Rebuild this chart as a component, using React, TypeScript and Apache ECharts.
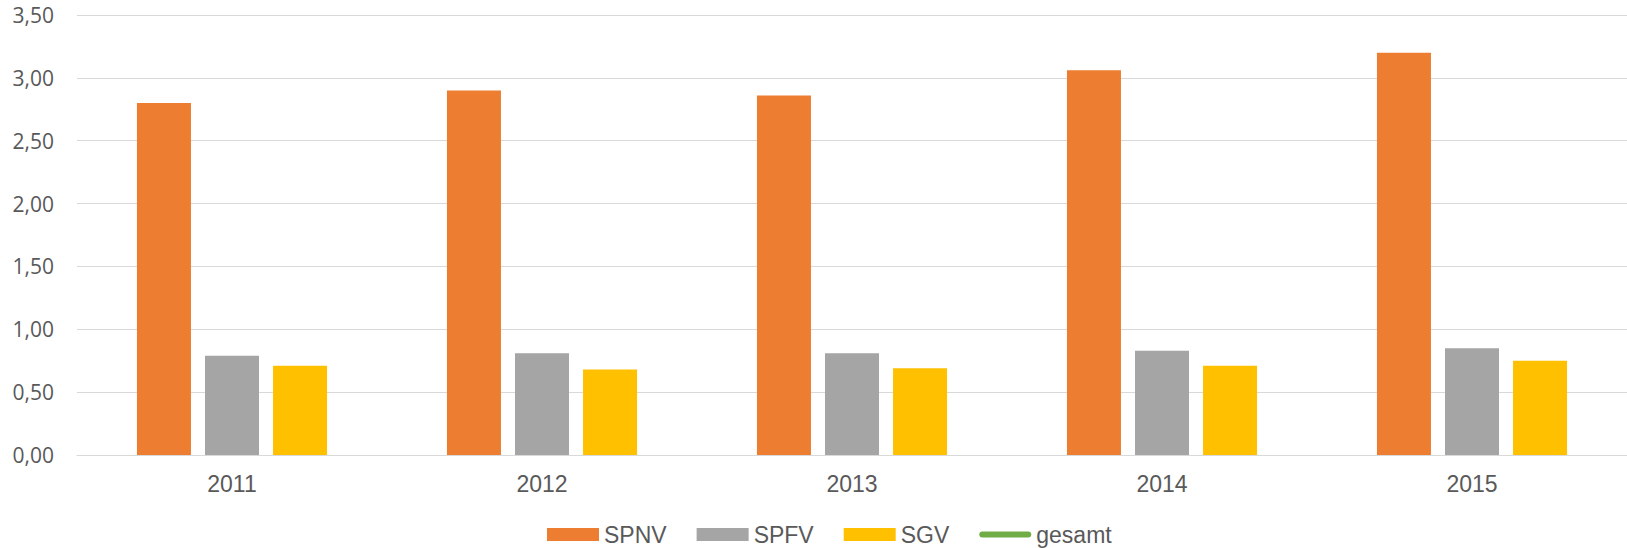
import React, { useEffect, useRef } from "react";
import * as echarts from "echarts";

const years = ["2011", "2012", "2013", "2014", "2015"];
const spnv = [2.8, 2.9, 2.86, 3.06, 3.2];
const spfv = [0.79, 0.81, 0.81, 0.83, 0.85];
const sgv = [0.71, 0.68, 0.69, 0.71, 0.75];
const gesamt: number[] = [];

const fmt = (v: number) => v.toFixed(2).replace(".", ",");

export default function App() {
  const ref = useRef<HTMLDivElement>(null);
  useEffect(() => {
    if (!ref.current) return;
    const chart = echarts.init(ref.current, undefined, { renderer: "svg" });
    const pill = "path://M3,0 L49,0 A3,3 0 0 1 49,6 L3,6 A3,3 0 0 1 3,0 Z";
    chart.setOption({
      animation: false,
      backgroundColor: "#ffffff",
      grid: { left: 77, width: 1554, top: 15, bottom: 93, containLabel: false },
      legend: {
        left: 547,
        top: 523,
        padding: 0,
        itemWidth: 52,
        itemHeight: 13,
        itemGap: 30,
        textStyle: { fontFamily: "Liberation Sans, Arial, sans-serif", fontSize: 23, lineHeight: 23, color: "#595959" },
        data: [
          { name: "SPNV", icon: "rect" },
          { name: "SPFV", icon: "rect" },
          { name: "SGV", icon: "rect" },
          { name: "gesamt", icon: pill, itemStyle: { color: "#70AD47" } },
        ],
      },
      xAxis: {
        type: "category",
        data: years,
        axisLine: { lineStyle: { color: "#D9D9D9", width: 1 } },
        axisTick: { show: false },
        axisLabel: { color: "#595959", fontSize: 23, fontFamily: "Liberation Sans, Arial, sans-serif", margin: 17 },
      },
      yAxis: {
        type: "value",
        min: 0,
        max: 3.5,
        interval: 0.5,
        axisLine: { show: false },
        axisTick: { show: false },
        splitLine: { lineStyle: { color: "#D9D9D9", width: 1 } },
        axisLabel: { color: "#595959", fontSize: 21, fontFamily: "Open Sans, sans-serif", margin: 23, formatter: fmt },
      },
      series: [
        { name: "SPNV", type: "bar", data: spnv, barWidth: 54, barGap: "26%", itemStyle: { color: "#ED7D31" } },
        { name: "SPFV", type: "bar", data: spfv, barWidth: 54, barGap: "26%", itemStyle: { color: "#A5A5A5" } },
        { name: "SGV", type: "bar", data: sgv, barWidth: 54, barGap: "26%", itemStyle: { color: "#FFC000" } },
        { name: "gesamt", type: "line", data: gesamt, showSymbol: false, lineStyle: { color: "#70AD47", width: 3 }, itemStyle: { color: "#70AD47" } },
      ],
    });
    return () => chart.dispose();
  }, []);
  return <div ref={ref} style={{ width: 1627, height: 548, position: "absolute", left: 0, top: 0 }} />;
}
